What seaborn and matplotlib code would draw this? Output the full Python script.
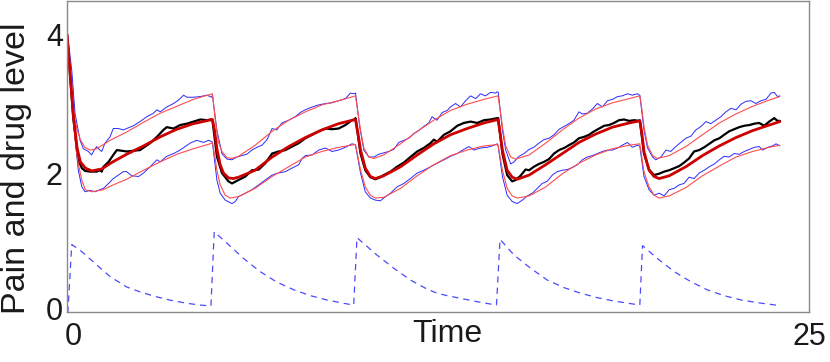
import numpy as np
import pandas as pd
import matplotlib
matplotlib.use("Agg")
import matplotlib.pyplot as plt
import matplotlib.transforms as mtrans
import seaborn as sns

# ---------------- data ----------------
UPPER_FIT_T = [0.0, 0.11, 0.22, 0.34, 0.45, 0.60, 0.78, 1.0, 1.45, 2.01, 2.58, 3.14, 3.70, 4.26, 4.90,
               4.99, 5.10, 5.22, 5.39, 5.56, 5.78, 6.34, 6.91, 7.47, 8.03, 8.59, 9.15, 9.72,
               9.80, 9.89, 10.00, 10.17, 10.34, 10.67, 11.24, 11.80, 12.36, 12.92, 13.48, 14.05, 14.52,
               14.59, 14.67, 14.78, 14.95, 15.12, 15.57, 16.13, 16.69, 17.25, 17.81, 18.38, 18.94, 19.30,
               19.37, 19.44, 19.56, 19.73, 19.89, 20.29, 20.85, 21.41, 21.98, 22.54, 23.10, 23.66, 24.02]
UPPER_FIT_V = [4.00, 3.42, 2.88, 2.62, 2.48, 2.37, 2.33, 2.35, 2.47, 2.59, 2.73, 2.86, 2.96, 3.06, 3.14,
               2.79, 2.45, 2.31, 2.22, 2.21, 2.24, 2.40, 2.60, 2.76, 2.88, 2.98, 3.04, 3.11,
               2.88, 2.62, 2.36, 2.23, 2.21, 2.26, 2.42, 2.60, 2.76, 2.90, 2.99, 3.06, 3.11,
               2.92, 2.67, 2.39, 2.23, 2.20, 2.26, 2.43, 2.62, 2.79, 2.92, 3.01, 3.07, 3.11,
               2.92, 2.67, 2.40, 2.25, 2.21, 2.25, 2.38, 2.55, 2.72, 2.85, 2.96, 3.05, 3.10]

MEAN_FIT_T = [0.0, 0.11, 0.22, 0.34, 0.45, 0.62, 0.84, 1.18, 1.50, 2.01, 2.58, 3.14, 3.70, 4.26, 4.90,
              4.97, 5.05, 5.16, 5.27, 5.44, 5.60, 5.78, 6.34, 6.91, 7.47, 8.03, 8.59, 9.15, 9.72,
              9.80, 9.89, 10.05, 10.22, 10.39, 10.67, 11.24, 11.80, 12.36, 12.92, 13.48, 14.05, 14.52,
              14.59, 14.67, 14.83, 15.00, 15.17, 15.57, 16.13, 16.69, 17.25, 17.81, 18.38, 18.94, 19.30,
              19.37, 19.44, 19.61, 19.78, 19.95, 20.29, 20.85, 21.41, 21.98, 22.54, 23.10, 23.66, 24.02]
MEAN_FIT_V = [4.00, 3.41, 2.80, 2.36, 2.16, 2.07, 2.03, 2.06, 2.15, 2.27, 2.39, 2.52, 2.63, 2.71, 2.77,
              2.62, 2.35, 2.12, 2.00, 1.93, 1.92, 1.94, 2.04, 2.23, 2.38, 2.51, 2.62, 2.71, 2.77,
              2.58, 2.33, 2.07, 1.95, 1.92, 1.96, 2.09, 2.26, 2.42, 2.55, 2.64, 2.72, 2.77,
              2.58, 2.33, 2.04, 1.94, 1.91, 1.97, 2.12, 2.28, 2.44, 2.56, 2.66, 2.72, 2.75,
              2.57, 2.31, 2.04, 1.95, 1.92, 1.96, 2.09, 2.25, 2.39, 2.51, 2.61, 2.69, 2.74]

LOWER_FIT_T = [0.0, 0.11, 0.22, 0.30, 0.39, 0.51, 0.62, 0.84, 1.23, 1.56, 2.01, 2.58, 3.14, 3.70, 4.26, 4.90,
               4.97, 5.05, 5.16, 5.33, 5.50, 5.78, 6.34, 6.91, 7.47, 8.03, 8.59, 9.15, 9.72,
               9.80, 9.89, 10.05, 10.22, 10.39, 10.67, 11.24, 11.80, 12.36, 12.92, 13.48, 14.05, 14.52,
               14.59, 14.67, 14.83, 15.00, 15.17, 15.57, 16.13, 16.69, 17.25, 17.81, 18.38, 18.94, 19.30,
               19.37, 19.44, 19.61, 19.78, 19.95, 20.29, 20.85, 21.41, 21.98, 22.54, 23.10, 23.66, 24.02]
LOWER_FIT_V = [4.00, 3.40, 2.76, 2.35, 2.11, 1.88, 1.76, 1.73, 1.76, 1.83, 1.91, 2.04, 2.16, 2.27, 2.35, 2.43,
               2.27, 2.04, 1.83, 1.68, 1.64, 1.66, 1.78, 1.95, 2.09, 2.23, 2.31, 2.37, 2.41,
               2.24, 2.04, 1.80, 1.68, 1.64, 1.65, 1.78, 1.96, 2.12, 2.25, 2.33, 2.39, 2.41,
               2.24, 2.04, 1.78, 1.67, 1.64, 1.67, 1.80, 1.99, 2.14, 2.26, 2.35, 2.40, 2.42,
               2.22, 2.02, 1.80, 1.68, 1.64, 1.67, 1.79, 1.96, 2.10, 2.23, 2.31, 2.37, 2.40]

UPPER_SIM_T = [0.0, 0.16, 0.27, 0.44, 0.55, 0.72, 0.83, 0.89, 1.0, 1.11, 1.17, 1.28, 1.45, 1.56, 1.73, 1.90,
               2.01, 2.24, 2.46, 2.69, 2.91, 3.03, 3.14, 3.36, 3.59, 3.76, 3.93, 4.04, 4.26, 4.49, 4.71, 4.88,
               4.90, 5.05, 5.22, 5.39, 5.56, 5.72, 5.89, 6.06, 6.23, 6.40, 6.57, 6.74, 6.91, 7.07, 7.24, 7.47,
               7.69, 7.86, 8.03, 8.26, 8.48, 8.71, 8.93, 9.15, 9.38, 9.55, 9.66,
               9.72, 9.86, 10.0, 10.17, 10.34, 10.50, 10.67, 10.84, 11.01, 11.18, 11.35, 11.52, 11.69, 11.85,
               12.02, 12.19, 12.30, 12.47, 12.64, 12.81, 12.92, 13.09, 13.26, 13.43, 13.60, 13.77, 13.93,
               14.10, 14.27, 14.44, 14.50,
               14.53, 14.67, 14.78, 14.95, 15.06, 15.23, 15.40, 15.57, 15.73, 15.90, 16.07, 16.24, 16.41,
               16.58, 16.75, 16.91, 17.08, 17.25, 17.36, 17.53, 17.70, 17.87, 18.04, 18.21, 18.38, 18.55,
               18.71, 18.88, 19.05, 19.22, 19.28,
               19.30, 19.44, 19.56, 19.73, 19.84, 20.01, 20.18, 20.34, 20.51, 20.68, 20.85, 21.02, 21.19,
               21.36, 21.53, 21.69, 21.86, 22.03, 22.20, 22.37, 22.54, 22.71, 22.87, 23.04, 23.21, 23.38,
               23.55, 23.72, 23.83, 23.94, 24.02]
UPPER_SIM_V = [4.06, 3.48, 2.86, 2.47, 2.35, 2.31, 2.26, 2.31, 2.38, 2.33, 2.31, 2.43, 2.52, 2.64, 2.64, 2.62,
               2.64, 2.68, 2.74, 2.81, 2.86, 2.91, 2.88, 2.95, 3.00, 3.05, 3.12, 3.09, 3.09, 3.10, 3.12, 3.09,
               3.12, 2.62, 2.28, 2.20, 2.19, 2.23, 2.25, 2.27, 2.33, 2.37, 2.40, 2.48, 2.64, 2.62, 2.72, 2.76,
               2.81, 2.87, 2.91, 2.95, 2.98, 3.00, 3.01, 3.04, 3.07, 3.15, 3.14,
               3.15, 2.67, 2.33, 2.23, 2.23, 2.27, 2.29, 2.31, 2.34, 2.44, 2.47, 2.50, 2.57, 2.61,
               2.67, 2.72, 2.81, 2.76, 2.87, 2.90, 2.95, 3.00, 2.95, 3.04, 3.11, 3.07, 3.14,
               3.11, 3.16, 3.15, 3.17,
               3.16, 2.62, 2.33, 2.13, 2.16, 2.24, 2.28, 2.34, 2.37, 2.43, 2.48, 2.50, 2.55,
               2.63, 2.67, 2.71, 2.76, 2.88, 2.85, 2.86, 2.92, 3.00, 2.95, 3.04, 3.06, 3.10,
               3.11, 3.14, 3.12, 3.14, 3.12,
               3.12, 2.62, 2.36, 2.23, 2.19, 2.23, 2.33, 2.31, 2.38, 2.44, 2.50, 2.53, 2.62,
               2.67, 2.74, 2.71, 2.76, 2.81, 2.88, 2.93, 2.91, 2.99, 3.03, 3.04, 3.00, 3.04,
               3.06, 3.15, 3.16, 3.10, 3.11]

MEAN_SIM_T = [0.0, 0.21, 0.38, 0.50, 0.61, 0.78, 1.0, 1.11, 1.17, 1.23, 1.40, 1.56, 1.68, 1.85, 2.01, 2.24,
              2.46, 2.63, 2.80, 3.03, 3.25, 3.36, 3.59, 3.81, 4.04, 4.26, 4.49, 4.71, 4.85,
              4.90, 5.05, 5.22, 5.44, 5.56, 5.78, 6.01, 6.23, 6.46, 6.68, 6.91, 7.13, 7.36, 7.58, 7.81,
              8.03, 8.26, 8.48, 8.71, 8.93, 9.15, 9.38, 9.60, 9.70,
              9.72, 9.89, 10.05, 10.22, 10.39, 10.56, 10.67, 10.90, 11.12, 11.35, 11.57, 11.80, 12.02,
              12.25, 12.36, 12.47, 12.70, 12.92, 13.15, 13.37, 13.60, 13.82, 14.05, 14.27, 14.50,
              14.53, 14.67, 14.83, 15.00, 15.12, 15.28, 15.45, 15.57, 15.73, 15.90, 16.07, 16.24, 16.41,
              16.58, 16.75, 16.91, 17.08, 17.25, 17.42, 17.59, 17.76, 17.93, 18.10, 18.26, 18.43, 18.60,
              18.77, 18.94, 19.11, 19.28,
              19.30, 19.44, 19.61, 19.78, 19.95, 20.12, 20.29, 20.46, 20.63, 20.79, 20.96, 21.13, 21.30,
              21.47, 21.64, 21.81, 21.98, 22.14, 22.31, 22.48, 22.65, 22.82, 22.99, 23.16, 23.32, 23.49,
              23.66, 23.83, 23.94, 24.02]
MEAN_SIM_V = [3.99, 2.80, 2.19, 2.07, 2.03, 2.02, 2.02, 2.04, 2.02, 2.09, 2.16, 2.26, 2.33, 2.32, 2.31, 2.32,
              2.33, 2.38, 2.43, 2.52, 2.62, 2.66, 2.64, 2.69, 2.71, 2.74, 2.77, 2.76, 2.77,
              2.76, 2.24, 2.00, 1.88, 1.85, 1.90, 1.95, 2.04, 2.05, 2.14, 2.28, 2.31, 2.33, 2.38, 2.43,
              2.50, 2.55, 2.60, 2.64, 2.63, 2.64, 2.69, 2.76, 2.77,
              2.79, 2.28, 2.04, 1.94, 1.91, 1.94, 1.97, 2.02, 2.09, 2.15, 2.23, 2.31, 2.36,
              2.43, 2.48, 2.45, 2.55, 2.60, 2.68, 2.72, 2.74, 2.72, 2.76, 2.77, 2.79,
              2.79, 2.28, 1.97, 1.88, 1.90, 1.96, 2.05, 2.04, 2.09, 2.13, 2.16, 2.20, 2.28,
              2.33, 2.36, 2.40, 2.44, 2.50, 2.52, 2.55, 2.60, 2.64, 2.68, 2.69, 2.72, 2.76,
              2.77, 2.75, 2.76, 2.75,
              2.76, 2.28, 2.05, 1.97, 1.99, 2.02, 2.04, 2.07, 2.10, 2.15, 2.21, 2.31, 2.33,
              2.37, 2.42, 2.47, 2.50, 2.55, 2.60, 2.63, 2.66, 2.68, 2.69, 2.71, 2.72, 2.68,
              2.74, 2.79, 2.75, 2.75]

LOWER_SIM_T = [0.0, 0.21, 0.38, 0.50, 0.61, 0.78, 0.95, 1.11, 1.23, 1.40, 1.56, 1.73, 1.90, 2.01, 2.18, 2.41,
               2.58, 2.80, 3.03, 3.14, 3.36, 3.59, 3.81, 3.98, 4.15, 4.37, 4.60, 4.77, 4.88,
               4.90, 5.05, 5.16, 5.33, 5.56, 5.67, 5.78, 6.01, 6.23, 6.46, 6.68, 6.91, 7.13, 7.36, 7.58,
               7.81, 7.92, 8.03, 8.26, 8.48, 8.71, 8.93, 9.15, 9.38, 9.60, 9.70,
               9.72, 9.89, 10.05, 10.22, 10.39, 10.56, 10.67, 10.90, 11.12, 11.35, 11.57, 11.80, 12.02,
               12.25, 12.47, 12.70, 12.92, 13.15, 13.37, 13.54, 13.71, 13.93, 14.16, 14.33, 14.50,
               14.53, 14.67, 14.83, 15.00, 15.17, 15.34, 15.51, 15.68, 15.85, 16.01, 16.18, 16.35, 16.52,
               16.69, 16.86, 17.03, 17.20, 17.36, 17.53, 17.70, 17.87, 18.04, 18.21, 18.38, 18.55, 18.71,
               18.88, 19.05, 19.22, 19.28,
               19.30, 19.44, 19.61, 19.78, 19.95, 20.12, 20.29, 20.46, 20.63, 20.79, 20.96, 21.13, 21.30,
               21.47, 21.64, 21.81, 21.98, 22.14, 22.31, 22.48, 22.65, 22.82, 22.99, 23.16, 23.32, 23.44,
               23.61, 23.77, 23.89, 24.02]
LOWER_SIM_V = [4.03, 2.78, 2.04, 1.80, 1.73, 1.75, 1.73, 1.76, 1.78, 1.85, 1.92, 1.97, 2.02, 2.02, 1.96, 1.95,
               2.00, 2.09, 2.19, 2.16, 2.24, 2.28, 2.33, 2.38, 2.43, 2.47, 2.44, 2.47, 2.45,
               2.44, 1.90, 1.71, 1.61, 1.56, 1.59, 1.66, 1.71, 1.76, 1.83, 1.90, 1.97, 2.00, 2.02, 2.07,
               2.12, 2.21, 2.25, 2.26, 2.33, 2.36, 2.31, 2.33, 2.37, 2.42, 2.41,
               2.40, 2.00, 1.73, 1.64, 1.61, 1.60, 1.64, 1.71, 1.80, 1.85, 1.92, 2.00, 2.04,
               2.09, 2.14, 2.19, 2.24, 2.28, 2.34, 2.38, 2.33, 2.36, 2.37, 2.39, 2.42,
               2.38, 1.95, 1.68, 1.59, 1.56, 1.61, 1.67, 1.71, 1.78, 1.85, 1.88, 1.97, 2.02,
               2.04, 2.05, 2.08, 2.12, 2.19, 2.23, 2.25, 2.28, 2.31, 2.33, 2.33, 2.36, 2.40,
               2.44, 2.37, 2.40, 2.39,
               2.38, 1.95, 1.76, 1.68, 1.71, 1.67, 1.76, 1.78, 1.83, 1.85, 1.94, 1.92, 2.00,
               2.04, 2.09, 2.13, 2.19, 2.24, 2.23, 2.28, 2.27, 2.31, 2.34, 2.37, 2.38, 2.33,
               2.37, 2.39, 2.42, 2.39]

DRUG_T = [0.0, 0.03, 0.16, 0.44, 0.89, 1.45, 2.01, 2.46, 2.91, 3.48, 4.04, 4.49, 4.85,
          4.96, 5.39, 5.95, 6.51, 7.07, 7.64, 8.20, 8.76, 9.32, 9.66,
          9.77, 10.44, 11.01, 11.57, 12.13, 12.47, 12.81, 13.37, 13.93, 14.47,
          14.59, 15.06, 15.62, 16.18, 16.75, 17.31, 17.87, 18.43, 19.00, 19.30,
          19.39, 19.89, 20.46, 21.02, 21.58, 22.14, 22.71, 23.27, 23.94]
DRUG_V = [0.0, 0.0, 0.97, 0.89, 0.72, 0.51, 0.36, 0.29, 0.23, 0.17, 0.125, 0.10, 0.087,
          1.155, 0.99, 0.77, 0.58, 0.43, 0.32, 0.235, 0.173, 0.125, 0.10,
          1.07, 0.82, 0.63, 0.46, 0.33, 0.27, 0.235, 0.187, 0.139, 0.10,
          1.046, 0.82, 0.63, 0.46, 0.35, 0.27, 0.206, 0.158, 0.12, 0.10,
          0.955, 0.77, 0.58, 0.436, 0.317, 0.235, 0.173, 0.134, 0.096]

X_TICKS = [0, 5, 10, 15, 20, 25]
X_TICK_LABELS = ["0", "", "", "", "", "25"]
Y_TICKS = [0, 0.5, 1, 1.5, 2, 2.5, 3, 3.5, 4]
Y_TICK_LABELS = ["0", "", "", "", "2", "", "", "", "4"]

# ---------------- figure ----------------
sns.set_style("white")
plt.rcParams["font.family"] = ["Liberation Sans", "DejaVu Sans"]

fig = plt.figure(figsize=(8.3, 3.62), dpi=100)
ax = fig.add_axes([67 / 830, 50 / 362, 742 / 830, 311 / 362])

def draw(t, v, **kw):
    df = pd.DataFrame({"t": t, "v": v})
    sns.lineplot(data=df, x="t", y="v", ax=ax, estimator=None, sort=False, **kw)

draw(UPPER_SIM_T, UPPER_SIM_V, color="#2a2aff", lw=0.7)
draw(LOWER_SIM_T, LOWER_SIM_V, color="#2a2aff", lw=0.7)
draw(MEAN_SIM_T, MEAN_SIM_V, color="black", lw=1.6)
draw(UPPER_FIT_T, UPPER_FIT_V, color="#ff4d4d", lw=0.8)
draw(LOWER_FIT_T, LOWER_FIT_V, color="#ff4d4d", lw=0.8)
draw(MEAN_FIT_T, MEAN_FIT_V, color="#cc0000", lw=2.0)
draw(DRUG_T, DRUG_V, color="#4a4aff", lw=0.9, dashes=(5, 4))

FS = 22
ax.set_xlim(0, 25)
ax.set_ylim(0, 4.475)
ax.set_xticks(X_TICKS)
ax.set_xticklabels(X_TICK_LABELS)
ax.set_yticks(Y_TICKS)
ax.set_yticklabels(Y_TICK_LABELS)
ax.tick_params(direction="in", length=5, width=0.8, color="#555555",
               labelsize=FS, labelcolor="#1a1a1a")
ax.tick_params(axis="x", pad=7)
ax.tick_params(axis="y", pad=3)
for s in ax.spines.values():
    s.set_visible(True)
    s.set_color("#8a8a8a")
    s.set_linewidth(1.0)

# first x label sits just right of its tick, as in the reference
first = ax.get_xticklabels()[0]
first.set_horizontalalignment("left")
first.set_transform(first.get_transform() + mtrans.ScaledTranslation(-2 / 100, 0, fig.dpi_scale_trans))
# y "0" sits slightly above its tick
y0 = ax.get_yticklabels()[0]
y0.set_transform(y0.get_transform() + mtrans.ScaledTranslation(0, 3 / 100, fig.dpi_scale_trans))

ax.set_xlabel("Time", fontsize=23, color="#1a1a1a")
ax.xaxis.set_label_coords(0.513, -0.024)
ax.set_ylabel("Pain and drug level", fontsize=24.5, color="#1a1a1a")
ax.yaxis.set_label_coords(-0.047, 0.463)

fig.savefig("out.png", dpi=100)
